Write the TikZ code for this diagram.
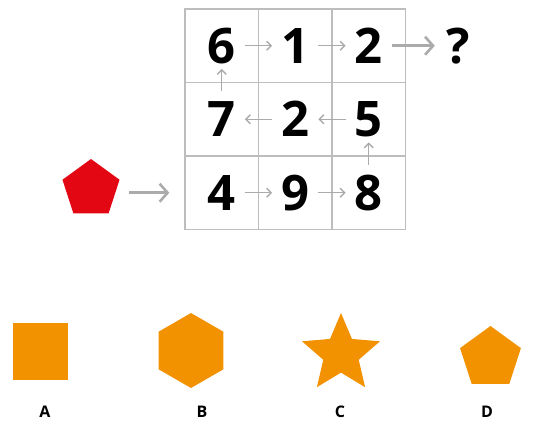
\documentclass[tikz,border=0pt]{standalone}
\usepackage{fontspec}
\setmainfont{Open Sans}
\usetikzlibrary{arrows.meta, positioning, shapes.geometric}
\definecolor{gridGray}{HTML}{BDBDBD}
\definecolor{arrowGray}{HTML}{ABABAB}
\definecolor{startRed}{HTML}{E30613}
\definecolor{choiceOrange}{HTML}{F39200}

\begin{document}
\begin{tikzpicture}[x=1pt, y=-1pt,
    cell/.style={rectangle, draw=gridGray, line width=1.3pt,
                 minimum size=73.5pt, inner sep=0pt},
    digit/.style={inner sep=0pt, minimum width=46pt, minimum height=56pt,
                  font=\fontsize{49}{49}\selectfont\bfseries},
    flow/.style={arrowGray, line width=1.3pt,
                 -{Straight Barb[length=4.5pt, width=9pt]}},
    bigflow/.style={arrowGray, line width=2.6pt,
                    -{Straight Barb[length=8pt, width=18pt]}},
    choice/.style={fill=choiceOrange, inner sep=0pt},
    letter/.style={inner sep=0pt, font=\fontsize{16}{16}\selectfont\bfseries},
  ]
    \useasboundingbox (0,0) rectangle (555,421);

    % 3x3 grid with the numbers
    \foreach \r/\c/\v in {1/1/6,1/2/1,1/3/2,2/1/7,2/2/2,2/3/5,3/1/4,3/2/9,3/3/8}{
      \node[cell] (c\r\c) at (148.25+73.5*\c, -27.75+73.5*\r) {};
      \node[digit] (d\r\c) at (c\r\c) {\v};
    }
    \node[digit] (q) at (458,45.75) {?};

    % start shape
    \node[regular polygon, regular polygon sides=5, fill=startRed,
          minimum size=60pt, inner sep=0pt] (start) at (91,189) {};
    \draw[bigflow, shorten <=38pt, shorten >=15pt] (start.center |- c31) -- (c31.west);

    % snake path through the grid
    \draw[flow] (d31) -- (d32);
    \draw[flow] (d32) -- (d33);
    \draw[flow, shorten >=-5pt] (d33) -- (d23);
    \draw[flow] (d23) -- (d22);
    \draw[flow] (d22) -- (d21);
    \draw[flow, shorten >=-5pt] (d21) -- (d11);
    \draw[flow] (d11) -- (d12);
    \draw[flow] (d12) -- (d13);
    \draw[bigflow] (d13) -- (q);

    % answer choices
    \node[choice, rectangle, minimum width=55pt, minimum height=57pt] (optA) at (40.5,351) {};
    \node[choice, regular polygon, regular polygon sides=6, minimum size=75pt,
          rotate=30] (optB) at (191,350.5) {};
    \node[choice, star, star points=5, star point ratio=2.2,
          minimum size=82pt] (optC) at (341,354) {};
    \node[choice, regular polygon, regular polygon sides=5,
          minimum size=64pt] (optD) at (490.5,358) {};

    \node[letter] (lblA) at (45,412) {A};
    \node[letter] (lblB) at (202,412) {B};
    \node[letter] (lblC) at (340,412) {C};
    \node[letter] (lblD) at (487,412) {D};
\end{tikzpicture}
\end{document}
